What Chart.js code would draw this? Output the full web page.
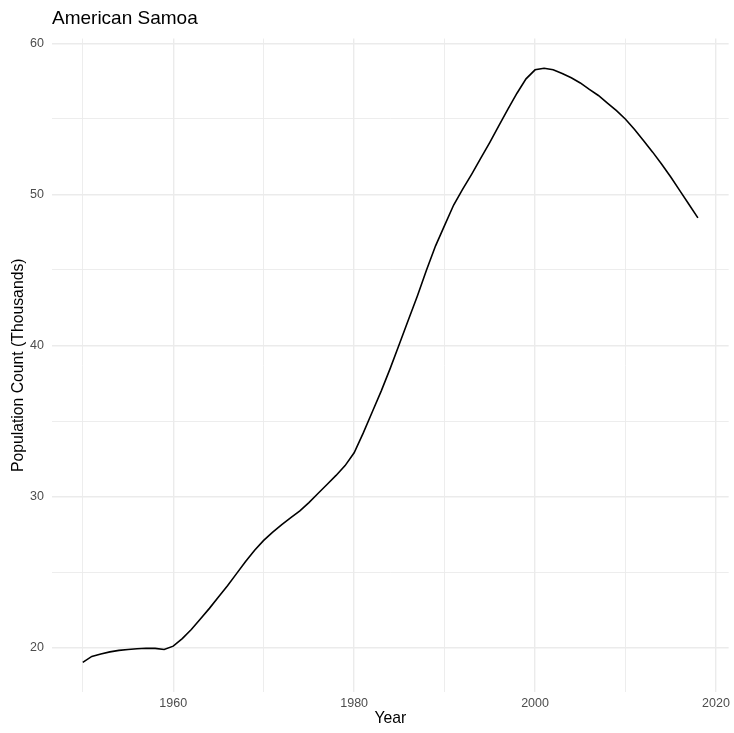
<!DOCTYPE html>
<html><head><meta charset="utf-8">
<script src="https://cdn.jsdelivr.net/npm/chart.js@4.4.0/dist/chart.umd.min.js"></script>
<style>html,body{margin:0;padding:0;background:#fff;} #wrap{width:734px;height:733px;}</style>
</head><body><div id="wrap"><canvas id="c" width="734" height="733" style="width:734px;height:733px"></canvas></div>
<script>
const chartTitle = 'American Samoa';
const xAxisTitle = 'Year';
const yAxisTitle = 'Population Count (Thousands)';
const years = [1950,1951,1952,1953,1954,1955,1956,1957,1958,1959,
  1960,1961,1962,1963,1964,1965,1966,1967,1968,1969,
  1970,1971,1972,1973,1974,1975,1976,1977,1978,1979,
  1980,1981,1982,1983,1984,1985,1986,1987,1988,1989,
  1990,1991,1992,1993,1994,1995,1996,1997,1998,1999,
  2000,2001,2002,2003,2004,2005,2006,2007,2008,2009,
  2010,2011,2012,2013,2014,2015,2016,2017,2018];
const population = [19.03,19.42,19.58,19.72,19.82,19.88,19.93,19.96,19.95,19.88,
  20.10,20.60,21.20,21.90,22.60,23.35,24.10,24.90,25.70,26.45,
  27.10,27.65,28.15,28.60,29.05,29.60,30.20,30.80,31.40,32.05,
  32.90,34.20,35.60,37.00,38.50,40.10,41.70,43.30,45.00,46.60,
  47.95,49.30,50.35,51.35,52.40,53.45,54.55,55.65,56.70,57.65,
  58.25,58.35,58.25,58.00,57.72,57.38,56.95,56.55,56.05,55.55,
  54.98,54.30,53.55,52.80,52.00,51.15,50.25,49.35,48.45];
const xTickLabels = [1960,1980,2000,2020];
const yTickLabels = [20,30,40,50,60];

const FONT = "'Liberation Sans', Arial, Helvetica, sans-serif";
// ggplot-style 5% expansion of the data range
const xRange = Math.max(...years) - Math.min(...years);
const xMin = Math.min(...years) - 0.05 * xRange, xMax = Math.max(...years) + 0.05 * xRange;
const yRange = Math.max(...population) - Math.min(...population);
const yMin = Math.min(...population) - 0.05 * yRange, yMax = Math.max(...population) + 0.05 * yRange;

const points = years.map((yr, i) => ({x: yr, y: population[i]}));

new Chart(document.getElementById('c'), {
  type: 'line',
  data: { datasets: [{ data: points, borderColor: '#000000', borderWidth: 1.6, pointRadius: 0, fill: false, tension: 0 }] },
  options: {
    responsive: false, animation: false, devicePixelRatio: 1,
    layout: { padding: { left: 0, right: 5, top: 0, bottom: 0 } },
    plugins: {
      legend: { display: false }, tooltip: { enabled: false },
      title: { display: true, text: chartTitle, align: 'start', fullSize: false, color: '#000000',
        font: { family: FONT, size: 19, weight: 'normal' }, padding: { top: 7.8, bottom: 8 } }
    },
    scales: {
      x: {
        type: 'linear', min: xMin, max: xMax,
        afterFit(s) { s.height = 41; },
        border: { display: false },
        grid: { drawTicks: false, color: '#EBEBEB',
          lineWidth: ctx => (ctx.tick && xTickLabels.includes(ctx.tick.value)) ? 1.4 : 0.9 },
        ticks: { stepSize: 10, includeBounds: false, autoSkip: false, maxRotation: 0, padding: 4,
          color: '#4D4D4D', font: { family: FONT, size: 12.5 },
          callback: v => xTickLabels.includes(v) ? String(v) : '' },
        title: { display: true, text: xAxisTitle, color: '#000000', font: { family: FONT, size: 15.75 },
          padding: { top: 0, bottom: 4.5 } }
      },
      y: {
        type: 'linear', min: yMin, max: yMax,
        afterFit(s) { s.width = 52; },
        border: { display: false },
        grid: { drawTicks: false, color: '#EBEBEB',
          lineWidth: ctx => (ctx.tick && yTickLabels.includes(ctx.tick.value)) ? 1.4 : 0.9 },
        ticks: { stepSize: 5, includeBounds: false, autoSkip: false, padding: 8,
          color: '#4D4D4D', font: { family: FONT, size: 12.5 },
          callback: v => yTickLabels.includes(v) ? String(v) : '' },
        title: { display: true, text: yAxisTitle, color: '#000000', font: { family: FONT, size: 15.75 },
          padding: { top: 9, bottom: 0 } }
      }
    }
  }
});
</script>
</body></html>
